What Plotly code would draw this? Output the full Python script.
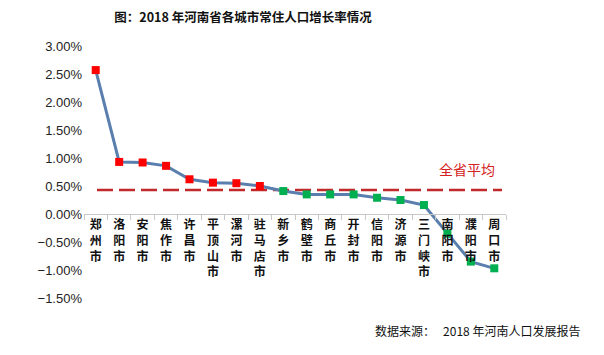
import plotly.graph_objects as go

cities = ["郑州市", "洛阳市", "安阳市", "焦作市", "许昌市", "平顶山市", "漯河市", "驻马店市",
          "新乡市", "鹤壁市", "商丘市", "开封市", "信阳市", "济源市", "三门峡市", "南阳市", "濮阳市", "周口市"]
growth = [0.0257, 0.0093, 0.0092, 0.0086, 0.0062, 0.0056, 0.0055, 0.0050,
          0.0041, 0.0035, 0.0035, 0.0035, 0.0029, 0.0025, 0.0016, -0.0035, -0.0085, -0.0097]
province_avg = 0.0043
y_ticks = [-0.015, -0.01, -0.005, 0.0, 0.005, 0.01, 0.015, 0.02, 0.025, 0.03]

marker_colors = ["#ff0000" if v > province_avg else "#00b050" for v in growth]
tick_text = ["<br>".join(list(c)) for c in cities]

W, H = 596, 347
ML, MR, MT, MB = 76, 98, 38, 57
PW, PH = W - ML - MR, H - MT - MB

cjk = "Noto Sans CJK SC, sans-serif"

fig = go.Figure()
fig.add_shape(type="line", xref="paper", yref="y",
              x0=(89 - ML) / PW, x1=(494 - ML) / PW, y0=province_avg, y1=province_avg,
              line=dict(color="#c0282a", width=2.5, dash="16px,6px"), layer="below")
fig.add_trace(go.Scatter(
    x=cities, y=growth, mode="lines+markers",
    line=dict(color="#5a7fae", width=3),
    marker=dict(symbol="square", size=8, color=marker_colors, line=dict(width=0)),
    showlegend=False))

fig.update_layout(
    width=W, height=H,
    margin=dict(l=ML, r=MR, t=MT, b=MB),
    paper_bgcolor="white", plot_bgcolor="white",
    font=dict(family="Liberation Sans, Arial, Noto Sans CJK SC, sans-serif", size=13, color="#222"),
    title=dict(text="<b>图：2018 年河南省各城市常住人口增长率情况</b>",
               x=235 / W, xanchor="center", y=1 - 10 / H, yanchor="middle",
               font=dict(size=12.5, color="#111", family=cjk)),
    xaxis=dict(
        type="category", tickmode="array", tickvals=cities, ticktext=tick_text,
        anchor="free", position=1/3,
        showline=True, linecolor="#c8c8c8", linewidth=1,
        ticks="outside", tickson="boundaries", ticklen=5, tickcolor="#c8c8c8",
        showgrid=False, zeroline=False,
        tickfont=dict(size=12, color="#111", family="Liberation Sans, Noto Sans CJK SC, sans-serif",
                      weight=700),
        range=[-0.5, len(cities) - 0.5]),
    yaxis=dict(
        range=[-0.015, 0.03], tickmode="array", tickvals=y_ticks, tickformat=".2%",
        showgrid=False, zeroline=False, showline=False, ticks="",
        ticklabelstandoff=1,
        tickfont=dict(size=13, color="#222")),
    annotations=[
        dict(text="全省平均", x=(489 - ML) / PW, xref="paper", xanchor="right",
             y=province_avg + 0.0038, yref="y", yanchor="middle", showarrow=False,
             font=dict(size=14, color="#d42020", family=cjk)),
        dict(text="数据来源：   2018 年河南人口发展报告", x=(574 - ML) / PW, xref="paper",
             xanchor="right", y=-(322 - (H - MB)) / PH, yref="paper", yanchor="middle",
             showarrow=False, font=dict(size=12, color="#111", family=cjk)),
    ],
)
fig.write_html("out.html")
